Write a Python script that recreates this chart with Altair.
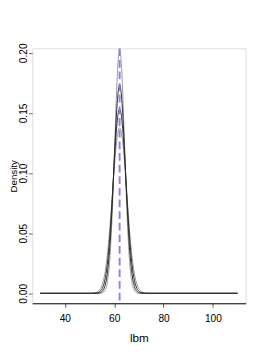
import altair as alt
import pandas as pd

# grid of lbm values (x) shared by all density curves
lbm = [30, 50.2, 52.2, 53.2, 54.2, 55.2, 56.2, 57.2, 58.2, 59.2, 60.2, 61.2, 62.2,
       63.2, 64.2, 65.2, 66.2, 67.2, 68.2, 69.2, 70.2, 71.2, 72.2, 74.2, 110]

dens_gray1 = [0, 0, 0, 0, 0.0001, 0.0004, 0.0023, 0.0089, 0.0275, 0.0659, 0.1231, 0.1791, 0.203,
              0.1791, 0.1231, 0.0659, 0.0275, 0.0089, 0.0023, 0.0004, 0.0001, 0, 0, 0, 0]
dens_black1 = [0, 0, 0, 0.0001, 0.0004, 0.0017, 0.0058, 0.0163, 0.0382, 0.0741, 0.1189, 0.1578, 0.1735,
               0.1578, 0.1189, 0.0741, 0.0382, 0.0163, 0.0058, 0.0017, 0.0004, 0.0001, 0, 0, 0]
dens_black2 = [0, 0, 0.0001, 0.0004, 0.0014, 0.0041, 0.0107, 0.0242, 0.0470, 0.0788, 0.1141, 0.1425, 0.1534,
               0.1425, 0.1141, 0.0788, 0.0470, 0.0242, 0.0107, 0.0041, 0.0014, 0.0004, 0.0001, 0, 0]
dens_gray2 = [0, 0, 0.0004, 0.0011, 0.0031, 0.0075, 0.0162, 0.0311, 0.0532, 0.0806, 0.1085, 0.1297, 0.1376,
              0.1297, 0.1085, 0.0806, 0.0532, 0.0311, 0.0162, 0.0075, 0.0031, 0.0011, 0.0004, 0, 0]

curve_names = ["gray1", "gray2", "black1", "black2"]
curve_colors = ["#9a9a9a", "#9a9a9a", "#2a2a2a", "#2a2a2a"]
curve_values = [dens_gray1, dens_gray2, dens_black1, dens_black2]

vline = [62.2]

x_ticks = [40, 60, 80, 100]
y_ticks = [0.0, 0.05, 0.10, 0.15, 0.20]

rows = []
for order, (name, vals) in enumerate(zip(curve_names, curve_values)):
    for xv, yv in zip(lbm, vals):
        rows.append({"curve": name, "order": order, "lbm": xv, "density": yv})
df = pd.DataFrame(rows)

font_lab = "Liberation Sans Narrow, Liberation Sans, Arial, sans-serif"
font_title = "Liberation Sans, Arial, sans-serif"

xscale = alt.Scale(domain=[26.8, 113.2], nice=False, zero=False)
yscale = alt.Scale(domain=[-0.0083, 0.2037], nice=False, zero=False)

xaxis = alt.Axis(values=x_ticks, title="lbm", grid=False, tickSize=4, tickColor="#555",
                 domain=True, domainColor="#000", domainWidth=1,
                 labelFont=font_lab, labelFontSize=10.5, labelColor="#000", labelPadding=7,
                 titleFont=font_title, titleFontSize=12, titleFontWeight="normal",
                 titleColor="#000", titlePadding=9)
yaxis = alt.Axis(values=y_ticks, format=".2f", title="Density", grid=False, tickSize=4,
                 tickColor="#666", domain=False,
                 labelFont=font_lab, labelFontSize=10.5, labelColor="#000",
                 labelAngle=270, labelAlign="center", labelBaseline="bottom", labelPadding=0,
                 titleFont=font_title, titleFontSize=10, titleFontWeight="normal",
                 titleColor="#000", titleAngle=270, titleBaseline="alphabetic",
                 titleX=-16, titleY=131.5, titleAlign="center")

lines = alt.Chart(df).mark_line(strokeWidth=1.0, clip=True, interpolate="monotone").encode(
    x=alt.X("lbm:Q", scale=xscale, axis=xaxis),
    y=alt.Y("density:Q", scale=yscale, axis=yaxis),
    color=alt.Color("curve:N", scale=alt.Scale(domain=curve_names, range=curve_colors), legend=None),
    detail="curve:N",
    order="lbm:Q",
)

rule = alt.Chart(pd.DataFrame({"lbm": vline})).mark_rule(
    color="#8282f8", strokeWidth=2, strokeDash=[8, 4], clip=True
).encode(x=alt.X("lbm:Q", scale=xscale))

chart = alt.layer(lines, rule).properties(
    width=220, height=263,
    padding={"left": 25, "top": 36, "right": 17, "bottom": 56},
    autosize="none",
).configure_view(stroke="#555", strokeWidth=1).configure(background="white")

chart.save("out.html", embed_options={"renderer": "svg", "actions": False})
